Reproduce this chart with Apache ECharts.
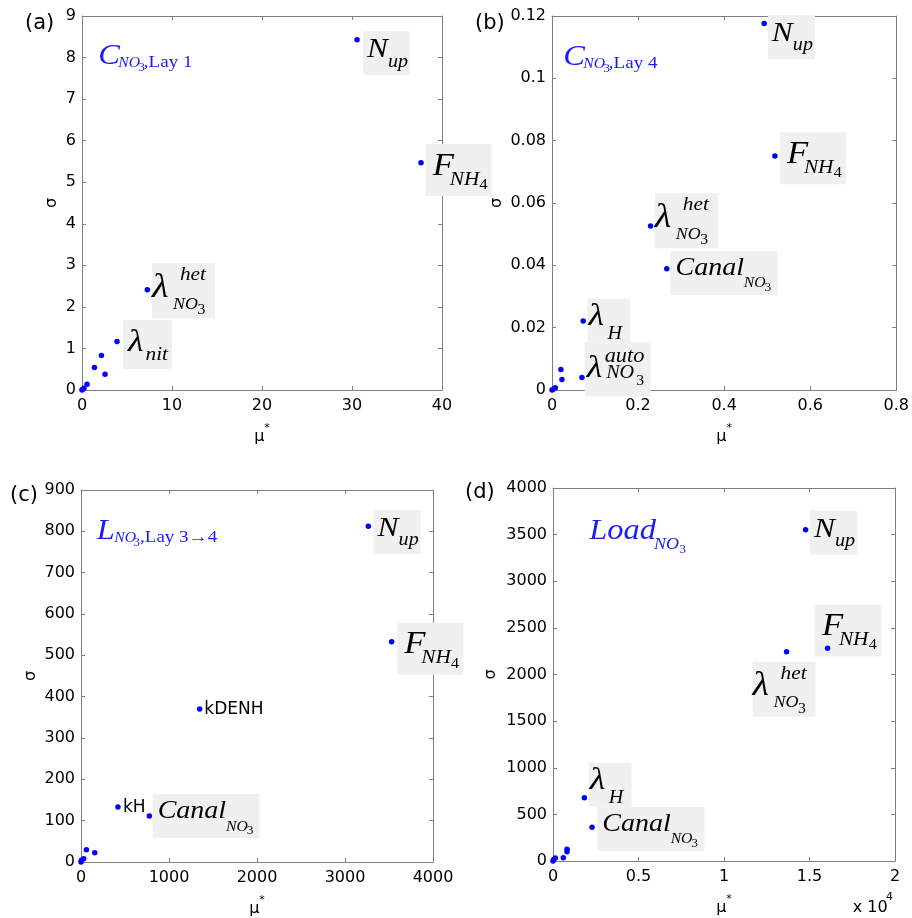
<!DOCTYPE html>
<html><head><meta charset="utf-8">
<script src="https://cdn.jsdelivr.net/npm/echarts@6/dist/echarts.min.js"></script>
<style>html,body{margin:0;padding:0;background:#fff}#c{width:912px;height:918px}</style>
</head><body><div id="c"></div>
<script>
// ---------- DATA ----------
// Panel (a) C_NO3, Lay 1
const aMu    = [30.56, 37.67, 7.26, 3.89, 2.16, 1.38, 2.56, 0.56, 0.22, 0.05, 0];
const aSigma = [8.43, 5.47, 2.41, 1.17, 0.83, 0.54, 0.38, 0.14, 0.04, 0.01, 0];
const aLabel = ['Nup', 'FNH4', 'lhet', 'lnit', '', '', '', '', '', '', ''];
// Panel (b) C_NO3, Lay 4
const bMu    = [0.493, 0.518, 0.229, 0.2667, 0.0725, 0.0696, 0.0207, 0.0231, 0.0078, 0.0023, 0];
const bSigma = [0.1176, 0.0751, 0.0526, 0.0389, 0.0221, 0.0040, 0.0066, 0.0034, 0.0007, 0.0002, 0];
const bLabel = ['Nup', 'FNH4', 'lhet', 'Canal', 'lH', 'lauto', '', '', '', '', ''];
// Panel (c) L_NO3, Lay 3->4
const cMu    = [3265, 3530, 1348, 420, 777, 61, 156, 31, 5, 0];
const cSigma = [812, 533, 370, 133, 111, 29.7, 22.4, 8, 4, 0];
const cLabel = ['Nup', 'FNH4', 'kDENH', 'kH', 'Canal', '', '', '', '', ''];
// Panel (d) Load_NO3
const dMu    = [14771, 16059, 13659, 1834, 2283, 820, 820, 603, 135, 35, 0];
const dSigma = [3553, 2281, 2245, 679, 361, 125, 100, 36, 32, 15, 0];
const dLabel = ['Nup', 'FNH4', 'lhet', 'lH', 'Canal', '', '', '', '', '', ''];

// tick definitions [min, max, interval]
const aXTicks = [0, 40, 10],     aYTicks = [0, 9, 1];
const bXTicks = [0, 0.8, 0.2],   bYTicks = [0, 0.12, 0.02];
const cXTicks = [0, 4000, 1000], cYTicks = [0, 900, 100];
const dXTicks = [0, 20000, 5000], dYTicks = [0, 4000, 500];
const dXScale = 10000;           // x axis of (d) is labelled in units of 10^4
const panelLetters = ['(a)', '(b)', '(c)', '(d)'];

// ---------- STYLE / LAYOUT ----------
const SX = 1.12;               // horizontal stretch of the source picture
const SERIF = '"Liberation Serif", "Times New Roman", serif';
const SANS = '"DejaVu Sans", sans-serif';
// label layouts: [text, x, baseline, fontSize, italic, family]
const LABEL_STYLES = {
  Nup:   {box: [47, 44], runs: [['N', 4, 28.3, 28, 1], ['up', 25, 36.7, 18, 1]]},
  FNH4:  {box: [66, 52], runs: [['F', 7, 33, 31, 1], ['NH', 24, 42, 19, 1], ['4', 53.5, 46, 15, 0]]},
  lhet:  {box: [63, 55], runs: [['λ', 0, 36, 34, 1], ['het', 28, 18.5, 19, 1], ['NO', 21, 47, 16, 1], ['3', 45.5, 52, 14, 0]]},
  lnit:  {box: [49, 49], runs: [['λ', 5, 33, 32, 1], ['nit', 22.5, 41.7, 19, 1]]},
  lH:    {box: [43, 44], runs: [['λ', 1, 29, 32, 1], ['H', 20, 42, 18, 1]]},
  lauto: {box: [66, 54], runs: [['λ', 2, 37.5, 32, 1], ['auto', 20, 21, 20, 1], ['NO', 21.5, 37.5, 18, 1], ['3', 51.5, 44, 14, 0]]},
  Canal: {box: [107, 44], runs: [['Canal', 5, 26.3, 25, 1], ['NO', 73.3, 37.5, 14, 1], ['3', 94, 40.7, 12, 0]]},
  kDENH: {box: null, runs: [['kDENH', 4.7, 6, 17, 0, 'sans']]},
  kH:    {box: null, runs: [['kH', 5, 6, 17, 0, 'sans']]}
};
// box top-left offset from the point, per panel
const LABEL_OFFSETS = [
  {Nup: [6, -8.4], FNH4: [4.7, -18.7], lhet: [4.6, -26.7], lnit: [6, -21.3]},
  {Nup: [3.7, -8.3], FNH4: [5, -23.7], lhet: [4.3, -32.7], Canal: [3.7, -17.7], lH: [4.3, -22.7], lauto: [2.7, -35.4]},
  {Nup: [5.3, -16.3], FNH4: [5.7, -19], kDENH: [0, 0], kH: [0, 0], Canal: [3.3, -22]},
  {Nup: [4.3, -19.3], FNH4: [-12.7, -43.7], lhet: [-34, 10], lH: [4.3, -35], Canal: [5.3, -20.3]}
];
const TITLES = [
  {pos: [98.3, 66], runs: [['C', 0, 0, 29, 1], ['NO', 20, 2.3, 14, 1], ['3', 40, 5.7, 12, 0], [',Lay 1', 45.5, 2.3, 17, 0]]},
  {pos: [563.3, 67], runs: [['C', 0, 0, 29, 1], ['NO', 20, 2.3, 14, 1], ['3', 40, 5.7, 12, 0], [',Lay 4', 45.5, 2.3, 17, 0]]},
  {pos: [96.7, 541], runs: [['L', 0, 0, 29, 1], ['NO', 17.6, 2.3, 14, 1], ['3', 36.6, 5.7, 12, 0], [',Lay 3→4', 43.3, 2.3, 17, 0]]},
  {pos: [589.3, 541.7], runs: [['Load', 0, 0, 29, 1], ['NO', 64.7, 8.3, 16, 1], ['3', 90, 12.3, 12, 0]]}
];
const GRIDS = [
  {left: 82, top: 16, width: 360, height: 374},
  {left: 552, top: 16, width: 347, height: 374},
  {left: 81, top: 490, width: 352, height: 373},
  {left: 553, top: 488, width: 342, height: 373}
];
const SIGMA_GAP = [22, 47, 42, 54];
const LETTER_POS = [[25, 24], [475, 24], [10, 496], [465, 492.5]];
const AX = '#7f7f7f';

function runsToEls(runs, color) {
  return runs.map(r => {
    const fam = r[5] === 'sans' ? SANS : SERIF;
    return {
      type: 'text', x: r[1], y: r[2] - 0.34 * r[3],
      scaleX: r[5] === 'sans' ? 1 : SX,
      style: {text: r[0], fontFamily: fam, fontSize: r[3], fontStyle: r[4] ? 'italic' : 'normal',
              fill: color, align: 'left', verticalAlign: 'middle'}
    };
  });
}
function buildLabel(key, px, py, off) {
  const spec = LABEL_STYLES[key];
  const children = [];
  if (spec.box) children.push({type: 'rect', shape: {x: 0, y: 0, width: spec.box[0], height: spec.box[1]}, style: {fill: '#f0f0f0'}});
  return {type: 'group', x: px + off[0], y: py + off[1], children: children.concat(runsToEls(spec.runs, '#000'))};
}
const plain = v => String(Math.round(v * 1e6) / 1e6);

const panels = [
  [aMu, aSigma, aLabel, aXTicks, aYTicks, plain],
  [bMu, bSigma, bLabel, bXTicks, bYTicks, plain],
  [cMu, cSigma, cLabel, cXTicks, cYTicks, plain],
  [dMu, dSigma, dLabel, dXTicks, dYTicks, v => plain(v / dXScale)]
];

const xAxis = [], yAxis = [], series = [];
panels.forEach((p, gi) => {
  const [mu, sg, lab, xt, yt, xfmt] = p;
  const base = {
    gridIndex: gi, type: 'value',
    axisLine: {show: true, onZero: false, lineStyle: {color: AX, width: 1}},
    axisTick: {show: true, inside: true, length: 4, lineStyle: {color: AX}},
    splitLine: {show: false}
  };
  const lbl = {show: true, color: '#000', fontFamily: SANS, fontSize: 16};
  xAxis.push(Object.assign({}, base, {
    position: 'bottom', min: xt[0], max: xt[1], interval: xt[2],
    axisLabel: Object.assign({}, lbl, {margin: 8, formatter: xfmt}),
    name: '{m|μ}{s|*}', nameLocation: 'middle', nameGap: 33,
    nameTextStyle: {rich: {
      m: {fontFamily: SANS, fontSize: 16, color: '#000', lineHeight: 22, verticalAlign: 'bottom'},
      s: {fontFamily: SANS, fontSize: 11, color: '#000', lineHeight: 12, verticalAlign: 'top'}}}
  }));
  xAxis.push(Object.assign({}, base, {position: 'top', min: xt[0], max: xt[1], interval: xt[2], axisLabel: {show: false}}));
  yAxis.push(Object.assign({}, base, {
    position: 'left', min: yt[0], max: yt[1], interval: yt[2],
    axisLabel: Object.assign({}, lbl, {margin: 6, formatter: plain}),
    name: 'σ', nameLocation: 'middle', nameRotate: 90, nameGap: SIGMA_GAP[gi],
    nameTextStyle: {fontFamily: SANS, fontSize: 16, color: '#000'}
  }));
  yAxis.push(Object.assign({}, base, {position: 'right', min: yt[0], max: yt[1], interval: yt[2], axisLabel: {show: false}}));

  const pts = mu.map((m, i) => [m, sg[i]]);
  const keys = [], lpts = [];
  lab.forEach((k, i) => { if (k) { keys.push(k); lpts.push([mu[i], sg[i]]); } });
  series.push({
    type: 'custom', xAxisIndex: gi * 2, yAxisIndex: gi * 2, z: 2, silent: true, clip: false,
    data: lpts,
    renderItem: (params, api) => {
      const c = api.coord([api.value(0), api.value(1)]);
      const k = keys[params.dataIndex];
      return buildLabel(k, c[0], c[1], LABEL_OFFSETS[gi][k]);
    }
  });
  series.push({
    type: 'scatter', xAxisIndex: gi * 2, yAxisIndex: gi * 2, z: 5,
    symbol: 'circle', symbolSize: 5.5, itemStyle: {color: '#0000ff', opacity: 1},
    data: pts
  });
});

const graphic = [];
TITLES.forEach(t => graphic.push({type: 'group', x: t.pos[0], y: t.pos[1], children: runsToEls(t.runs, '#1a1aff')}));
panelLetters.forEach((L, i) => graphic.push({type: 'text', x: LETTER_POS[i][0], y: LETTER_POS[i][1],
  style: {text: L, fontFamily: SANS, fontSize: 21, fill: '#000', verticalAlign: 'middle'}}));
graphic.push({type: 'text', x: 852.7, y: 907.5, style: {text: 'x 10', fontFamily: SANS, fontSize: 16, fill: '#000', verticalAlign: 'middle'}});
graphic.push({type: 'text', x: 886, y: 897, style: {text: '4', fontFamily: SANS, fontSize: 11, fill: '#000', verticalAlign: 'middle'}});

const chart = echarts.init(document.getElementById('c'), null, {renderer: 'canvas'});
chart.setOption({
  animation: false,
  backgroundColor: '#fff',
  grid: GRIDS,
  xAxis, yAxis, series, graphic
});
</script></body></html>
